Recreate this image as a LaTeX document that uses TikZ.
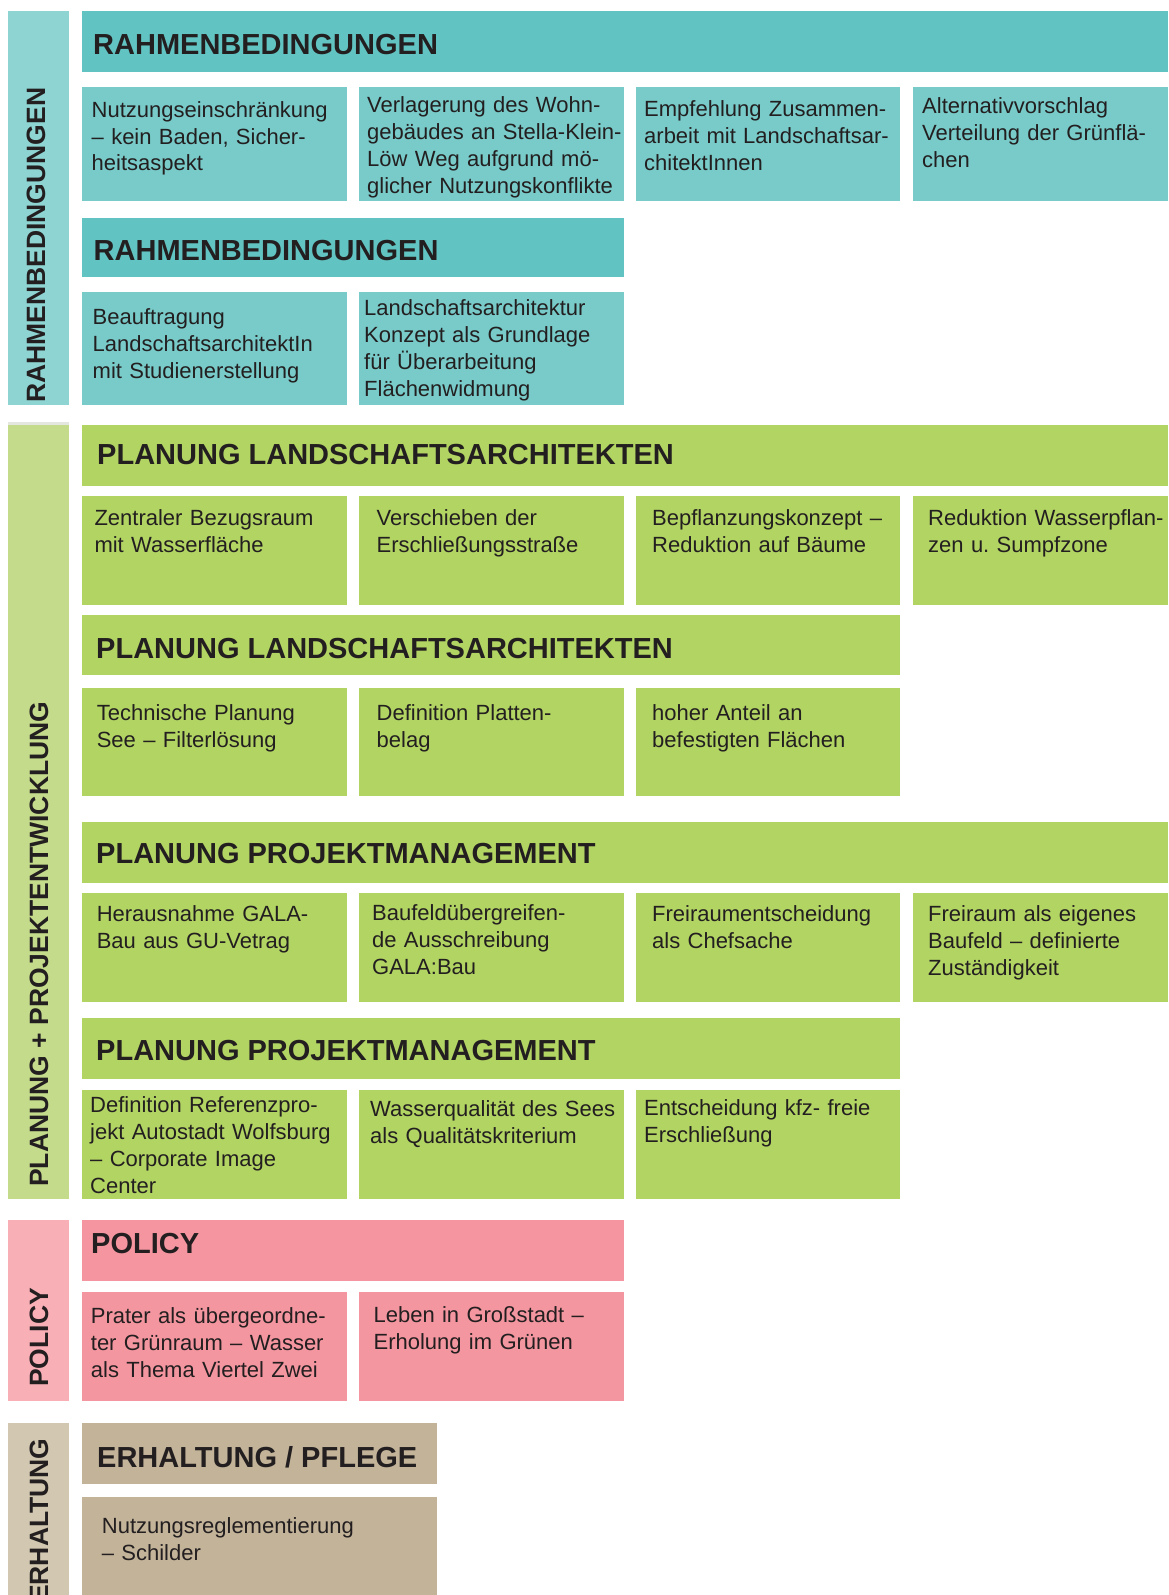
\documentclass[tikz,border=0pt]{standalone}
\usepackage{fontspec}
\setmainfont{Liberation Sans}
\definecolor{ink}{HTML}{231F20}
\definecolor{tealside}{HTML}{8ED4D2}
\definecolor{tealhead}{HTML}{62C4C2}
\definecolor{tealbox}{HTML}{78CBC9}
\definecolor{greenside}{HTML}{C4DB8C}
\definecolor{greenhead}{HTML}{B2D463}
\definecolor{greenbox}{HTML}{B2D463}
\definecolor{greystrip}{HTML}{E4E6E0}
\definecolor{pinkside}{HTML}{F8AFB5}
\definecolor{pinkhead}{HTML}{F4959F}
\definecolor{pinkbox}{HTML}{F4969F}
\definecolor{tanside}{HTML}{D2C7B0}
\definecolor{tanhead}{HTML}{C2B399}
\definecolor{tanbox}{HTML}{C2B399}
\newcommand{\hdfont}{\fontsize{29}{34}\selectfont\bfseries}
\newcommand{\bodyfont}{\fontsize{22}{27}\selectfont\frenchspacing}
\newcommand{\sidefont}{\fontsize{26.5}{30}\selectfont\bfseries}
\tikzset{
  cell/.style={rectangle, inner sep=0pt, outer sep=0pt, anchor=north west, draw=none},
  hdtext/.style={anchor=base west, inner sep=0pt, font=\hdfont, text=ink},
  bodytext/.style={anchor=base west, inner sep=0pt, text width=300pt, align=left, font=\bodyfont, text=ink},
  sidetext/.style={anchor=base west, inner sep=0pt, rotate=90, font=\sidefont, text=ink},
}
\begin{document}
\begin{tikzpicture}[x=1pt, y=-1pt]
\useasboundingbox (0,0) rectangle (1168,1595);
\fill[white] (0,0) rectangle (1168,1595);

% ===== RAHMENBEDINGUNGEN =====
\node[cell, fill=tealside, minimum width=61pt, minimum height=394pt] (s1) at (8,11) {};
\node[sidetext] (s1t) at (45,403) {RAHMENBEDINGUNGEN};

\node[cell, fill=tealhead, minimum width=1086pt, minimum height=61pt] (h1) at (82,11) {};
\node[hdtext] (h1t) at (93,55) {RAHMENBEDINGUNGEN};

\node[cell, fill=tealbox, minimum width=265pt, minimum height=114pt] (b11) at (82,87) {};
\node[cell, fill=tealbox, minimum width=265pt, minimum height=114pt] (b12) at (359,87) {};
\node[cell, fill=tealbox, minimum width=264pt, minimum height=114pt] (b13) at (636,87) {};
\node[cell, fill=tealbox, minimum width=255pt, minimum height=114pt] (b14) at (913,87) {};
\node[bodytext] (t11) at (91.5,117) {Nutzungseinschränkung\\– kein Baden, Sicher-\\heitsaspekt};
\node[bodytext] (t12) at (367,112) {Verlagerung des Wohn-\\gebäudes an Stella-Klein-\\Löw Weg aufgrund mö-\\glicher Nutzungskonflikte};
\node[bodytext] (t13) at (644,116) {Empfehlung Zusammen-\\arbeit mit Landschaftsar-\\chitektInnen};
\node[bodytext] (t14) at (922,113) {Alternativvorschlag\\Verteilung der Grünflä-\\chen};

\node[cell, fill=tealhead, minimum width=542pt, minimum height=59pt] (h2) at (82,218) {};
\node[hdtext] (h2t) at (93.5,260) {RAHMENBEDINGUNGEN};

\node[cell, fill=tealbox, minimum width=265pt, minimum height=113pt] (b21) at (82,292) {};
\node[cell, fill=tealbox, minimum width=265pt, minimum height=113pt] (b22) at (359,292) {};
\node[bodytext] (t21) at (92.5,324) {Beauftragung\\LandschaftsarchitektIn\\mit Studienerstellung};
\node[bodytext] (t22) at (364,315) {Landschaftsarchitektur\\Konzept als Grundlage\\für Überarbeitung\\Flächenwidmung};

% ===== PLANUNG + PROJEKTENTWICKLUNG =====
\fill[greystrip] (8,422) rectangle (69,425);
\node[cell, fill=greenside, minimum width=61pt, minimum height=774pt] (s2) at (8,425) {};
\node[sidetext] (s2t) at (48,1187) {PLANUNG + PROJEKTENTWICKLUNG};

\node[cell, fill=greenhead, minimum width=1086pt, minimum height=61pt] (h3) at (82,425) {};
\node[hdtext] (h3t) at (97,464) {PLANUNG LANDSCHAFTSARCHITEKTEN};

\node[cell, fill=greenbox, minimum width=265pt, minimum height=109pt] (b31) at (82,496) {};
\node[cell, fill=greenbox, minimum width=265pt, minimum height=109pt] (b32) at (359,496) {};
\node[cell, fill=greenbox, minimum width=264pt, minimum height=109pt] (b33) at (636,496) {};
\node[cell, fill=greenbox, minimum width=255pt, minimum height=109pt] (b34) at (913,496) {};
\node[bodytext] (t31) at (94.3,525) {Zentraler Bezugsraum\\mit Wasserfläche};
\node[bodytext] (t32) at (376.5,525) {Verschieben der\\Erschließungsstraße};
\node[bodytext] (t33) at (652,525) {Bepflanzungskonzept –\\Reduktion auf Bäume};
\node[bodytext] (t34) at (928,525) {Reduktion Wasserpflan-\\zen u. Sumpfzone};

\node[cell, fill=greenhead, minimum width=818pt, minimum height=60pt] (h4) at (82,615) {};
\node[hdtext] (h4t) at (96,658) {PLANUNG LANDSCHAFTSARCHITEKTEN};

\node[cell, fill=greenbox, minimum width=265pt, minimum height=108pt] (b41) at (82,688) {};
\node[cell, fill=greenbox, minimum width=265pt, minimum height=108pt] (b42) at (359,688) {};
\node[cell, fill=greenbox, minimum width=264pt, minimum height=108pt] (b43) at (636,688) {};
\node[bodytext] (t41) at (96.6,720) {Technische Planung\\See – Filterlösung};
\node[bodytext] (t42) at (376.5,720) {Definition Platten-\\belag};
\node[bodytext] (t43) at (652,720) {hoher Anteil an\\befestigten Flächen};

\node[cell, fill=greenhead, minimum width=1086pt, minimum height=61pt] (h5) at (82,822) {};
\node[hdtext] (h5t) at (96,863) {PLANUNG PROJEKTMANAGEMENT};

\node[cell, fill=greenbox, minimum width=265pt, minimum height=109pt] (b51) at (82,893) {};
\node[cell, fill=greenbox, minimum width=265pt, minimum height=109pt] (b52) at (359,893) {};
\node[cell, fill=greenbox, minimum width=264pt, minimum height=109pt] (b53) at (636,893) {};
\node[cell, fill=greenbox, minimum width=255pt, minimum height=109pt] (b54) at (913,893) {};
\node[bodytext] (t51) at (96.6,921) {Herausnahme GALA-\\Bau aus GU-Vetrag};
\node[bodytext] (t52) at (372,920) {Baufeldübergreifen-\\de Ausschreibung\\GALA:Bau};
\node[bodytext] (t53) at (652,921) {Freiraumentscheidung\\als Chefsache};
\node[bodytext] (t54) at (928,921) {Freiraum als eigenes\\Baufeld – definierte\\Zuständigkeit};

\node[cell, fill=greenhead, minimum width=818pt, minimum height=61pt] (h6) at (82,1018) {};
\node[hdtext] (h6t) at (96,1060) {PLANUNG PROJEKTMANAGEMENT};

\node[cell, fill=greenbox, minimum width=265pt, minimum height=109pt] (b61) at (82,1090) {};
\node[cell, fill=greenbox, minimum width=265pt, minimum height=109pt] (b62) at (359,1090) {};
\node[cell, fill=greenbox, minimum width=264pt, minimum height=109pt] (b63) at (636,1090) {};
\node[bodytext] (t61) at (90,1112) {Definition Referenzpro-\\jekt Autostadt Wolfsburg\\– Corporate Image\\Center};
\node[bodytext] (t62) at (370,1116) {Wasserqualität des Sees\\als Qualitätskriterium};
\node[bodytext] (t63) at (644,1115) {Entscheidung kfz- freie\\Erschließung};

% ===== POLICY =====
\node[cell, fill=pinkside, minimum width=61pt, minimum height=181pt] (s3) at (8,1220) {};
\node[sidetext] (s3t) at (48,1387) {POLICY};

\node[cell, fill=pinkhead, minimum width=542pt, minimum height=61pt] (h7) at (82,1220) {};
\node[hdtext] (h7t) at (91,1253) {POLICY};

\node[cell, fill=pinkbox, minimum width=265pt, minimum height=109pt] (b71) at (82,1292) {};
\node[cell, fill=pinkbox, minimum width=265pt, minimum height=109pt] (b72) at (359,1292) {};
\node[bodytext] (t71) at (90.7,1323) {Prater als übergeordne-\\ter Grünraum – Wasser\\als Thema Viertel Zwei};
\node[bodytext] (t72) at (373.4,1322) {Leben in Großstadt –\\Erholung im Grünen};

% ===== ERHALTUNG =====
\node[cell, fill=tanside, minimum width=61pt, minimum height=172pt] (s4) at (8,1423) {};
\node[sidetext] (s4t) at (48,1603) {ERHALTUNG};

\node[cell, fill=tanhead, minimum width=355pt, minimum height=61pt] (h8) at (82,1423) {};
\node[hdtext] (h8t) at (97,1467) {ERHALTUNG / PFLEGE};

\node[cell, fill=tanbox, minimum width=355pt, minimum height=98pt] (b81) at (82,1497) {};
\node[bodytext] (t81) at (101.7,1533) {Nutzungsreglementierung\\– Schilder};
\end{tikzpicture}
\end{document}
